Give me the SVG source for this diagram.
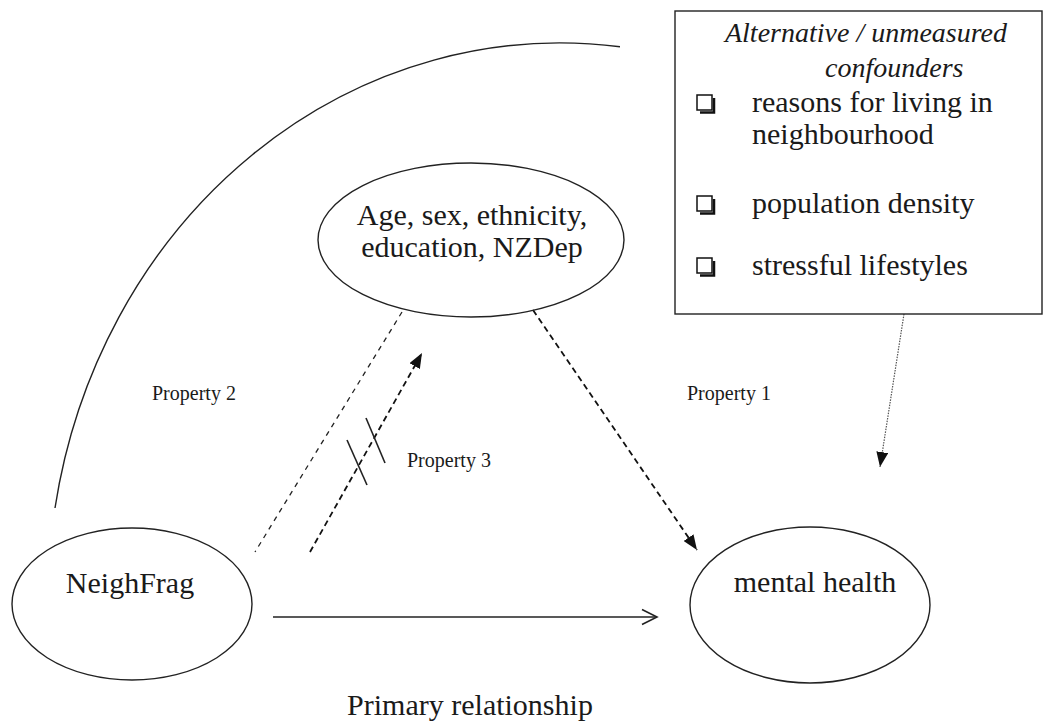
<svg xmlns="http://www.w3.org/2000/svg" width="1047" height="726" viewBox="0 0 1047 726">
<style>
  .bg{fill:#fff}
  .shape{fill:none;stroke:#222;stroke-width:1.4}
  .t{font-family:"Liberation Serif","Times New Roman",serif;fill:#1a1a1a}
  .big{font-size:30px}
  .lab{font-size:20px}
  .hdr{font-size:28px;font-style:italic}
  .dash{fill:none;stroke:#111;stroke-width:1.8;stroke-dasharray:6 4}
  .dash2{fill:none;stroke:#222;stroke-width:1.3;stroke-dasharray:5 5}
  .dot{fill:none;stroke:#555;stroke-width:1.2;stroke-dasharray:1.5 1.2}
  .solid{fill:none;stroke:#222;stroke-width:1.6}
  .cb{fill:#fff;stroke:#111;stroke-width:1.5}
  .cbs{fill:none;stroke:#111;stroke-width:2.5}
</style>
<defs>
  <marker id="tri" markerUnits="userSpaceOnUse" markerWidth="16" markerHeight="12" refX="15" refY="6" orient="auto">
    <path d="M0,0 L15,6 L0,12 Z" fill="#111"/>
  </marker>
  <marker id="open" markerUnits="userSpaceOnUse" markerWidth="18" markerHeight="18" refX="16" refY="9" orient="auto">
    <path d="M1,1.5 L16,9 L1,16.5" fill="none" stroke="#222" stroke-width="1.6"/>
  </marker>
</defs>
<rect class="bg" x="0" y="0" width="1047" height="726"/>

<g id="connectors">
  <path id="arc" class="shape" d="M55,508 A512,557 0 0 1 620,46.8"/>
  <line id="primary" class="solid" x1="273" y1="617" x2="657" y2="617" marker-end="url(#open)"/>
  <line id="prop1" class="dash" x1="533" y1="310" x2="697" y2="550" marker-end="url(#tri)"/>
  <line id="prop2" class="dash2" x1="402" y1="312" x2="255" y2="552"/>
  <line id="prop3" class="dash" x1="310" y1="552" x2="422" y2="353" marker-end="url(#tri)"/>
  <line id="confound" class="dot" x1="904" y1="314" x2="880" y2="467" marker-end="url(#tri)"/>
  <line class="solid" stroke-width="1.3" x1="347" y1="440" x2="367" y2="485"/>
  <line class="solid" stroke-width="1.3" x1="366" y1="418" x2="385" y2="463"/>
</g>

<g id="confounders-box">
  <rect class="shape" x="675" y="11" width="367" height="303"/>
  <text class="t hdr" x="866" y="42" text-anchor="middle">Alternative / unmeasured</text>
  <text class="t hdr" x="825" y="77">confounders</text>
  <polyline class="cbs" points="700,112.5 714,112.5 714,98"/>
  <rect class="cb" x="697" y="95" width="15" height="15"/>
  <text class="t big" x="752" y="112">reasons for living in</text>
  <text class="t big" x="752" y="144">neighbourhood</text>
  <polyline class="cbs" points="700,213.5 714,213.5 714,199"/>
  <rect class="cb" x="697" y="196" width="15" height="15"/>
  <text class="t big" x="752" y="213">population density</text>
  <polyline class="cbs" points="700,275.5 714,275.5 714,261"/>
  <rect class="cb" x="697" y="258" width="15" height="15"/>
  <text class="t big" x="752" y="275">stressful lifestyles</text>
</g>

<g id="covariates">
  <ellipse class="shape" cx="471" cy="240" rx="153" ry="77"/>
  <text class="t big" x="472" y="225" text-anchor="middle">Age, sex, ethnicity,</text>
  <text class="t big" x="472" y="257" text-anchor="middle">education, NZDep</text>
</g>

<g id="neighfrag">
  <ellipse class="shape" cx="132" cy="604" rx="120" ry="76"/>
  <text class="t big" x="130" y="593" text-anchor="middle">NeighFrag</text>
</g>

<g id="mental-health">
  <ellipse class="shape" cx="810" cy="605" rx="120" ry="78"/>
  <text class="t big" x="815" y="592" text-anchor="middle">mental health</text>
</g>

<g id="labels">
  <text class="t lab" x="152" y="400">Property 2</text>
  <text class="t lab" x="687" y="400">Property 1</text>
  <text class="t lab" x="407" y="467">Property 3</text>
  <text class="t big" x="470" y="715" text-anchor="middle">Primary relationship</text>
</g>
</svg>
